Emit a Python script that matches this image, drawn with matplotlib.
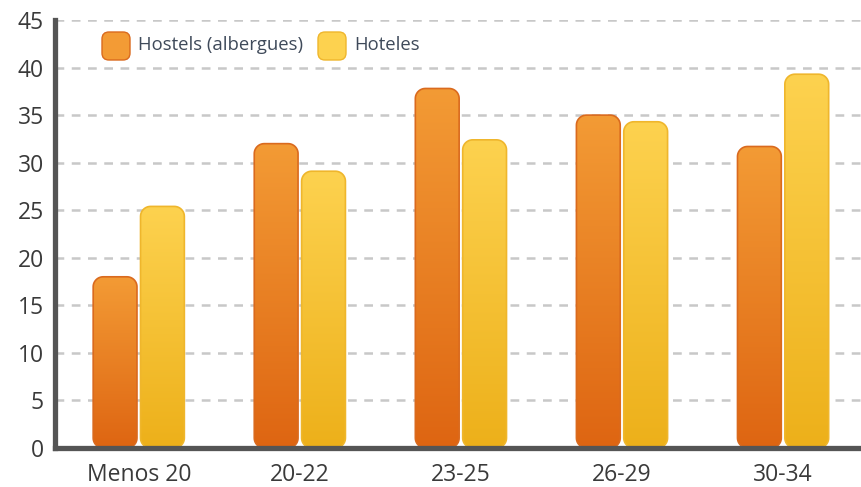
import numpy as np
import matplotlib
matplotlib.use("Agg")
import matplotlib.pyplot as plt
from matplotlib.patches import PathPatch, FancyBboxPatch
from matplotlib.path import Path
from matplotlib.colors import LinearSegmentedColormap

categories = ["Menos 20", "20-22", "23-25", "26-29", "30-34"]
hostels = [18.0, 32.0, 37.8, 35.0, 31.7]
hoteles = [25.4, 29.1, 32.4, 34.3, 39.3]
series_names = ["Hostels (albergues)", "Hoteles"]
y_ticks = [0, 5, 10, 15, 20, 25, 30, 35, 40, 45]

plt.rcParams['font.family'] = ['Open Sans', 'DejaVu Sans']

fig = plt.figure(figsize=(8.62, 4.87), dpi=100)
ax = fig.add_axes([55/862, 39/487, 1 - 55/862, (448-20)/487])

xlim = (-0.52, 4.49)
ylim = (0, 45)
ax.set_xlim(*xlim)
ax.set_ylim(*ylim)

x = np.arange(len(categories))
w = 0.272
gap = 0.022

styles = [
    dict(top="#F39B35", bot="#DE6512", edge="#DA6A1E"),
    dict(top="#FDD24F", bot="#EDB01A", edge="#EFB62C"),
]

ax_w_px = 862 - 55
ax_h_px = 448 - 20
xpp = (xlim[1] - xlim[0]) / ax_w_px
ypp = (ylim[1] - ylim[0]) / ax_h_px
rpx = 10

def rounded_rect(x0, y0, bw, bh, rx, ry, n=12):
    pts = []
    corners = [
        (x0 + bw - rx, y0 + ry, -np.pi/2, 0),
        (x0 + bw - rx, y0 + bh - ry, 0, np.pi/2),
        (x0 + rx, y0 + bh - ry, np.pi/2, np.pi),
        (x0 + rx, y0 + ry, np.pi, 1.5*np.pi),
    ]
    for cx, cy, a0, a1 in corners:
        t = np.linspace(a0, a1, n)
        pts.extend(zip(cx + rx*np.cos(t), cy + ry*np.sin(t)))
    pts.append(pts[0])
    codes = [Path.MOVETO] + [Path.LINETO]*(len(pts)-2) + [Path.CLOSEPOLY]
    return Path(pts, codes)

def gradient_bars(xs, vals, st):
    bars = ax.bar(xs, vals, width=w, color="none", edgecolor="none")
    cmap = LinearSegmentedColormap.from_list("g", [st["bot"], st["top"]])
    grad = np.linspace(0, 1, 256).reshape(-1, 1)
    for b in bars:
        x0, y0 = b.get_x(), b.get_y()
        bw, bh = b.get_width(), b.get_height()
        p = PathPatch(rounded_rect(x0, y0, bw, bh, rpx*xpp, rpx*ypp),
                      facecolor="none", edgecolor=st["edge"], linewidth=1.2,
                      zorder=3)
        ax.add_patch(p)
        im = ax.imshow(grad, cmap=cmap, origin="lower", aspect="auto",
                       extent=(x0, x0 + bw, y0, y0 + bh), zorder=2,
                       interpolation="bilinear")
        im.set_clip_path(p)
    return bars

gradient_bars(x - w/2 - gap/2, hostels, styles[0])
gradient_bars(x + w/2 + gap/2, hoteles, styles[1])
ax.set_xlim(*xlim)
ax.set_ylim(*ylim)

# grid
ax.set_yticks(y_ticks)
for yt in y_ticks[1:]:
    ax.axhline(yt, color="#c8c8c8", lw=1.8, ls=(0, (3.5, 3)), zorder=1)

ax.set_xticks(x)
ax.set_xticklabels(categories)
ax.tick_params(axis="x", length=0, pad=11, labelsize=16.5, labelcolor="#3a3a3a")
ax.tick_params(axis="y", length=0, pad=8, labelsize=16.5, labelcolor="#3a3a3a")

for s in ["top", "right"]:
    ax.spines[s].set_visible(False)
for s in ["left", "bottom"]:
    ax.spines[s].set_color("#555555")
    ax.spines[s].set_linewidth(3.8)
    ax.spines[s].set_zorder(5)

# legend (custom rounded squares)
leg_items = [(102, series_names[0], styles[0]), (318, series_names[1], styles[1])]
for px, name, st in leg_items:
    fx = px / 862
    fy = 1 - 60 / 487
    sq = FancyBboxPatch((fx, fy), 28/862, 28/487, transform=fig.transFigure,
                        boxstyle=f"round,pad=0,rounding_size={7/862}",
                        mutation_aspect=(862/487),
                        facecolor=st["top"], edgecolor=st["edge"], lw=1, zorder=6)
    fig.patches.append(sq)
    fig.text((px + 36) / 862, 1 - 45 / 487, name, fontsize=13.3, color="#3f4a5a",
             va="center", ha="left")

fig.savefig("out.png", dpi=100)
